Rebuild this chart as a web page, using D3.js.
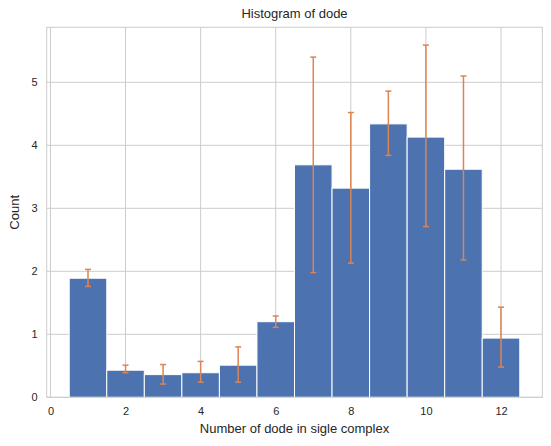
<!DOCTYPE html>
<html>
<head>
<meta charset="utf-8">
<script src="https://cdn.jsdelivr.net/npm/d3@7"></script>
<style>
  body { margin: 0; background: #fff; }
  svg { font-family: "Liberation Sans", Arial, sans-serif; }
</style>
</head>
<body>
<div id="chart"></div>
<script>
let width = 551;
let height = 446;
let margin = { top: 27.3, right: 8.7, bottom: 48.7, left: 46.7 };

// histogram bins (centres), counts and error range
let bins = [1, 2, 3, 4, 5, 6, 7, 8, 9, 10, 11, 12];
let counts = [1.89, 0.43, 0.36, 0.39, 0.51, 1.20, 3.69, 3.32, 4.34, 4.13, 3.62, 0.94];
let errLow = [1.76, 0.39, 0.21, 0.24, 0.24, 1.11, 1.98, 2.13, 3.84, 2.71, 2.18, 0.48];
let errHigh = [2.03, 0.51, 0.52, 0.57, 0.80, 1.29, 5.40, 4.52, 4.86, 5.59, 5.10, 1.43];
let xTicks = [0, 2, 4, 6, 8, 10, 12];
let yTicks = [0, 1, 2, 3, 4, 5];

let binWidth = 1;
let blue = "#4c72b0";
let orange = "#dd8452";
let gridColor = "#cccccc";
let textColor = "#262626";

let svg = d3.select("#chart")
  .append("svg")
  .attr("width", width)
  .attr("height", height);

let x = d3.scaleLinear()
  .domain([-0.1, 13.1])
  .range([margin.left, width - margin.right]);

let y = d3.scaleLinear()
  .domain([0, 5.873])
  .range([height - margin.bottom, margin.top]);

// grid
svg.append("g")
  .selectAll("line")
  .data(xTicks)
  .enter()
  .append("line")
  .attr("x1", d => x(d))
  .attr("x2", d => x(d))
  .attr("y1", y(0))
  .attr("y2", margin.top)
  .attr("stroke", gridColor)
  .attr("stroke-width", 1);

svg.append("g")
  .selectAll("line")
  .data(yTicks)
  .enter()
  .append("line")
  .attr("x1", margin.left)
  .attr("x2", width - margin.right)
  .attr("y1", d => y(d))
  .attr("y2", d => y(d))
  .attr("stroke", gridColor)
  .attr("stroke-width", 1);

// bars
svg.append("g")
  .selectAll("rect")
  .data(bins)
  .enter()
  .append("rect")
  .attr("x", d => x(d - binWidth / 2))
  .attr("y", (d, i) => y(counts[i]))
  .attr("width", x(binWidth) - x(0))
  .attr("height", (d, i) => y(0) - y(counts[i]))
  .attr("fill", blue)
  .attr("stroke", "#ffffff")
  .attr("stroke-width", 1);

// error bars
let eb = svg.append("g")
  .selectAll("g")
  .data(bins)
  .enter()
  .append("g")
  .attr("stroke", orange)
  .attr("stroke-width", 1.5);

eb.append("line")
  .attr("x1", d => x(d))
  .attr("x2", d => x(d))
  .attr("y1", (d, i) => y(errLow[i]))
  .attr("y2", (d, i) => y(errHigh[i]));

eb.append("line")
  .attr("x1", d => x(d) - 3)
  .attr("x2", d => x(d) + 3)
  .attr("y1", (d, i) => y(errLow[i]))
  .attr("y2", (d, i) => y(errLow[i]));

eb.append("line")
  .attr("x1", d => x(d) - 3)
  .attr("x2", d => x(d) + 3)
  .attr("y1", (d, i) => y(errHigh[i]))
  .attr("y2", (d, i) => y(errHigh[i]));

// frame
svg.append("rect")
  .attr("x", margin.left)
  .attr("y", margin.top)
  .attr("width", width - margin.left - margin.right)
  .attr("height", height - margin.top - margin.bottom)
  .attr("fill", "none")
  .attr("stroke", gridColor)
  .attr("stroke-width", 1);

// axes
let xAxis = svg.append("g")
  .attr("transform", `translate(0, ${y(0)})`)
  .call(d3.axisBottom(x).tickValues(xTicks).tickFormat(d3.format("d")).tickSize(0).tickPadding(10));
xAxis.select(".domain").remove();
xAxis.selectAll("text")
  .attr("font-size", 11)
  .attr("font-family", "Liberation Sans, Arial, sans-serif")
  .attr("fill", textColor);

let yAxis = svg.append("g")
  .attr("transform", `translate(${margin.left}, 0)`)
  .call(d3.axisLeft(y).tickValues(yTicks).tickFormat(d3.format("d")).tickSize(0).tickPadding(9));
yAxis.select(".domain").remove();
yAxis.selectAll("text")
  .attr("font-size", 11)
  .attr("font-family", "Liberation Sans, Arial, sans-serif")
  .attr("fill", textColor);

// labels
svg.append("text")
  .attr("x", (margin.left + width - margin.right) / 2)
  .attr("y", 18)
  .attr("text-anchor", "middle")
  .attr("font-size", 13)
  .attr("fill", textColor)
  .text("Histogram of dode");

svg.append("text")
  .attr("x", (margin.left + width - margin.right) / 2)
  .attr("y", 433)
  .attr("text-anchor", "middle")
  .attr("font-size", 13)
  .attr("fill", textColor)
  .text("Number of dode in sigle complex");

svg.append("text")
  .attr("transform", `translate(19, ${(margin.top + height - margin.bottom) / 2}) rotate(-90)`)
  .attr("text-anchor", "middle")
  .attr("font-size", 13)
  .attr("fill", textColor)
  .text("Count");
</script>
</body>
</html>
